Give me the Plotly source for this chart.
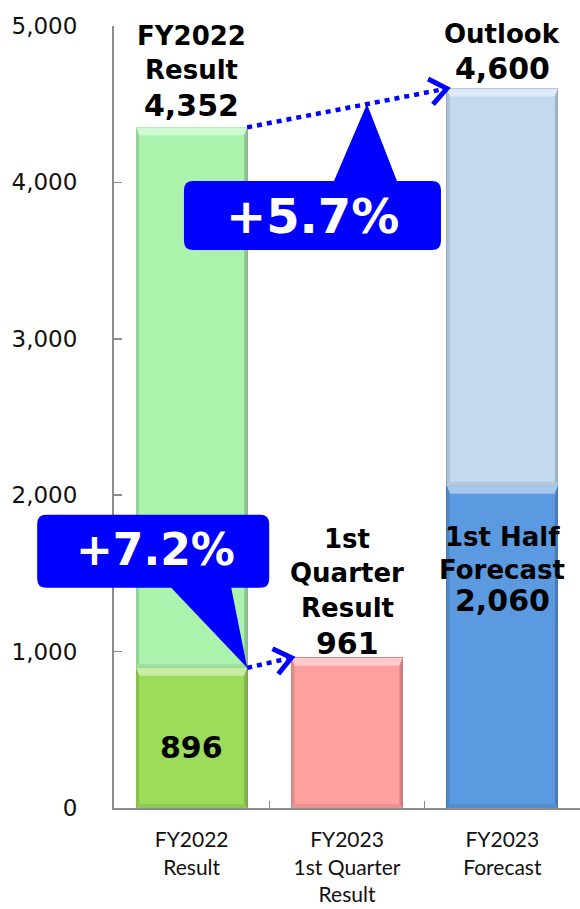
import math
import plotly.graph_objects as go

# ---------------- data ----------------
categories = ["FY2022<br>Result", "FY2023<br>1st Quarter<br>Result", "FY2023<br>Forecast"]
fy2022_q1 = 896
fy2022_total = 4352
fy2023_q1 = 961
fy2023_h1 = 2060
fy2023_outlook = 4600
growth_full = "+5.7%"
growth_q1 = "+7.2%"
y_ticks = [0, 1000, 2000, 3000, 4000, 5000]

# ---------------- layout constants ----------------
W, H = 580, 909
ML, MR, MT, MB = 114, 0, 26, 101
PW, PH = W - ML - MR, H - MT - MB
XR = (-0.5, 2.5)
YR = (0, 5000)
px_per_x = PW / (XR[1] - XR[0])
px_per_y = PH / (YR[1] - YR[0])
BW = 0.715
BLUE = "#0000FF"

def xp(x):
    return (x - XR[0]) / (XR[1] - XR[0])

def yp(y):
    return (y - YR[0]) / (YR[1] - YR[0])

def hex2rgb(h):
    h = h.lstrip("#")
    return [int(h[i:i + 2], 16) for i in (0, 2, 4)]

def mix(h, other, t):
    a = hex2rgb(h)
    b = hex2rgb(other)
    c = [round(a[i] + (b[i] - a[i]) * t) for i in range(3)]
    return "#%02X%02X%02X" % tuple(c)

fig = go.Figure()

segments = []  # (category index, base, value, color)

def bar(ci, base, val, color):
    fig.add_trace(go.Bar(x=[categories[ci]], y=[val], width=BW,
                         marker=dict(color=color, line=dict(color=mix(color, "#000000", 0.25), width=1)),
                         showlegend=False, hoverinfo="skip"))
    segments.append((ci, base, val, color))

bar(0, 0, fy2022_q1, "#9DDC5B")
bar(0, fy2022_q1, fy2022_total - fy2022_q1, "#ABF2AD")
bar(1, 0, fy2023_q1, "#FF9F9E")
bar(2, 0, fy2023_h1, "#5B9AE1")
bar(2, fy2023_h1, fy2023_outlook - fy2023_h1, "#C3D9F0")

# bevel decoration on every bar segment
hw = BW * px_per_x / 2
bt, bs, bb = 8, 3, 4
for ci, base, val, color in segments:
    h = val * px_per_y
    top = base + val
    common = dict(type="path", xref="paper", yref="paper", xsizemode="pixel", ysizemode="pixel",
                  xanchor=xp(ci), yanchor=yp(top), line=dict(width=0), layer="above")
    fig.add_shape(path=f"M {-hw},0 L {hw},0 L {hw - bs},{-bt} L {-hw + bs},{-bt} Z",
                  fillcolor=mix(color, "#FFFFFF", 0.45), **common)
    fig.add_shape(path=f"M {-hw},0 L {-hw + bs},{-bt} L {-hw + bs},{-(h - bb)} L {-hw},{-h} Z",
                  fillcolor=mix(color, "#000000", 0.12), **common)
    fig.add_shape(path=f"M {hw},0 L {hw - bs},{-bt} L {hw - bs},{-(h - bb)} L {hw},{-h} Z",
                  fillcolor=mix(color, "#000000", 0.18), **common)
    fig.add_shape(path=f"M {-hw},{-h} L {hw},{-h} L {hw - bs},{-(h - bb)} L {-hw + bs},{-(h - bb)} Z",
                  fillcolor=mix(color, "#000000", 0.08), **common)

# ---------------- helpers ----------------
def rounded_callout(x0, x1, y0, y1, r, side, p0, p1):
    """Pixel path relative to apex (0,0); y up-positive. Pointer on 'top' or 'bottom' edge."""
    if side == "top":
        d = (f"M {x0 + r},{y1} L {p0},{y1} L 0,0 L {p1},{y1} L {x1 - r},{y1} "
             f"Q {x1},{y1} {x1},{y1 - r} L {x1},{y0 + r} Q {x1},{y0} {x1 - r},{y0} "
             f"L {x0 + r},{y0} Q {x0},{y0} {x0},{y0 + r} L {x0},{y1 - r} Q {x0},{y1} {x0 + r},{y1} Z")
    else:
        d = (f"M {x0 + r},{y1} L {x1 - r},{y1} Q {x1},{y1} {x1},{y1 - r} L {x1},{y0 + r} "
             f"Q {x1},{y0} {x1 - r},{y0} L {p1},{y0} L 0,0 L {p0},{y0} L {x0 + r},{y0} "
             f"Q {x0},{y0} {x0},{y0 + r} L {x0},{y1 - r} Q {x0},{y1} {x0 + r},{y1} Z")
    return d

def dotted_arrow(xa, ya, xb, yb):
    fig.add_shape(type="line", xref="paper", yref="paper", x0=xp(xa), y0=yp(ya), x1=xp(xb), y1=yp(yb),
                  line=dict(color=BLUE, width=4.5, dash="5px,5px"))
    dx = (xb - xa) * px_per_x
    dy = (yb - ya) * px_per_y
    ang = math.atan2(dy, dx)
    L, a = 21, math.radians(38)
    p1 = (-L * math.cos(ang - a), -L * math.sin(ang - a))
    p2 = (-L * math.cos(ang + a), -L * math.sin(ang + a))
    fig.add_shape(type="path", xref="paper", yref="paper", xsizemode="pixel", ysizemode="pixel",
                  xanchor=xp(xb), yanchor=yp(yb),
                  path=f"M {p1[0]:.1f},{p1[1]:.1f} L 0,0 L {p2[0]:.1f},{p2[1]:.1f}",
                  line=dict(color=BLUE, width=5))

# arrows
b0_right = 0 + BW / 2
b1_left = 1 - BW / 2
b2_left = 2 - BW / 2
dotted_arrow(b0_right, fy2022_total, b2_left, fy2023_outlook)
dotted_arrow(b0_right, fy2022_q1, b1_left, fy2023_q1)

# callout 1 (+5.7%) apex on the upper arrow
t = 0.6
ax1 = b0_right + t * (b2_left - b0_right)
ay1 = fy2022_total + t * (fy2023_outlook - fy2022_total)
fig.add_shape(type="path", xref="paper", yref="paper", xsizemode="pixel", ysizemode="pixel",
              xanchor=xp(ax1), yanchor=yp(ay1),
              path=rounded_callout(-183, 74, -146, -77, 9, "top", -33, 30),
              fillcolor=BLUE, line=dict(width=0))
fig.add_annotation(x=xp(ax1), y=yp(ay1), xref="paper", yref="paper", text=growth_full, showarrow=False,
                   xshift=-54, yshift=-112, xanchor="center", yanchor="middle",
                   font=dict(family="DejaVu Sans", size=48, color="white", weight="bold"))

# callout 2 (+7.2%) apex at top-right corner of FY2022 Q1 segment
ax2, ay2 = b0_right, fy2022_q1
fig.add_shape(type="path", xref="paper", yref="paper", xsizemode="pixel", ysizemode="pixel",
              xanchor=xp(ax2), yanchor=yp(ay2),
              path=rounded_callout(-210, 22, 80, 153, 9, "bottom", -76, -16),
              fillcolor=BLUE, line=dict(width=0))
fig.add_annotation(x=xp(ax2), y=yp(ay2), xref="paper", yref="paper", text=growth_q1, showarrow=False,
                   xshift=-92, yshift=118, xanchor="center", yanchor="middle",
                   font=dict(family="DejaVu Sans", size=44, color="white", weight="bold"))

# ---------------- text labels ----------------
def label(xc, yv, text, yshift, size=26):
    fig.add_annotation(x=xc, y=yv, xref="x", yref="y", text=text, showarrow=False,
                       yshift=yshift, xanchor="center", yanchor="middle",
                       font=dict(family="DejaVu Sans", size=size, color="black", weight="bold"))

def fmt(v):
    return f"{v:,}"

label(0, fy2022_total, "FY2022", 91)
label(0, fy2022_total, "Result", 57)
label(0, fy2022_total, fmt(fy2022_total), 22, 30)

label(2, fy2023_outlook, "Outlook", 55)
label(2, fy2023_outlook, fmt(fy2023_outlook), 20, 30)

label(1, fy2023_q1, "1st", 119)
label(1, fy2023_q1, "Quarter", 85)
label(1, fy2023_q1, "Result", 50)
label(1, fy2023_q1, fmt(fy2023_q1), 14, 30)

label(2, fy2023_h1, "1st Half", -51)
label(2, fy2023_h1, "Forecast", -84)
label(2, fy2023_h1, fmt(fy2023_h1), -115, 30)

label(0, fy2022_q1 / 2, fmt(fy2022_q1), -10, 30)

# ---------------- axes / layout ----------------
fig.update_layout(
    width=W, height=H, template="none",
    margin=dict(l=ML, r=MR, t=MT, b=MB, pad=0),
    barmode="stack", bargap=0,
    paper_bgcolor="white", plot_bgcolor="white",
    showlegend=False,
    xaxis=dict(range=list(XR), showgrid=False, showline=True, linecolor="#8C8C8C", linewidth=2,
               ticks="inside", tickson="boundaries", ticklen=7, tickcolor="#8C8C8C", tickwidth=1.5,
               tickfont=dict(family="Lato", size=21, color="#111"), ticklabelstandoff=12,
               automargin=False, zeroline=False, fixedrange=True),
    yaxis=dict(range=list(YR), tickvals=y_ticks, tickformat=",", showgrid=False, showline=True,
               linecolor="#8C8C8C", linewidth=2, ticks="inside", ticklen=8, tickcolor="#8C8C8C",
               tickwidth=1.5, tickfont=dict(family="DejaVu Sans", size=23, color="#111"),
               ticklabelstandoff=30, automargin=False, zeroline=False, fixedrange=True),
)

fig.write_html("out.html", config={"displayModeBar": False, "staticPlot": True},
               post_script="document.body.style.margin='0px';document.body.style.overflow='hidden';")
